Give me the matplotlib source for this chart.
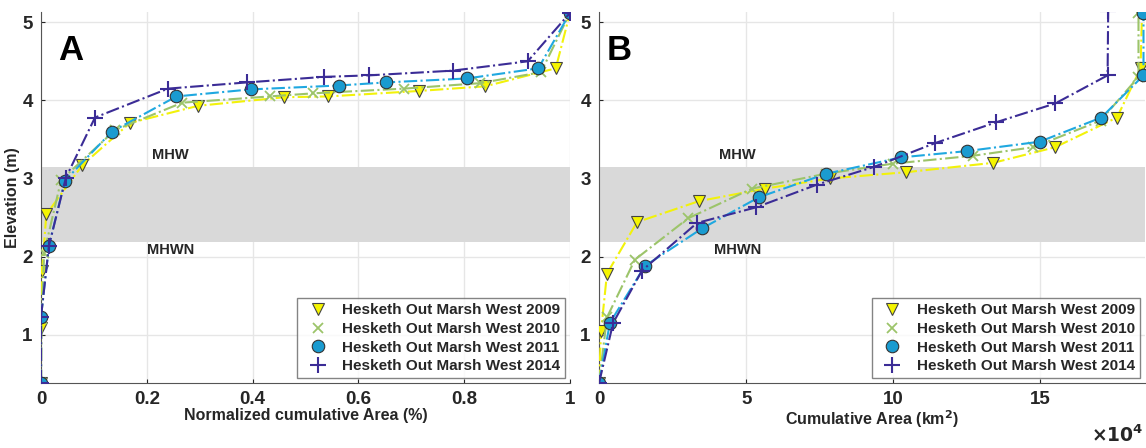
import matplotlib
matplotlib.use('Agg')
import matplotlib.pyplot as plt
from matplotlib.ticker import FuncFormatter

plt.rcParams['font.family'] = ['Liberation Sans', 'DejaVu Sans']
plt.rcParams['font.weight'] = 'bold'

years = ['2009', '2010', '2011', '2014']

# Panel A: normalized cumulative area vs elevation
a_x_2009 = [0, 0, 0.002, 0.01, 0.078, 0.168, 0.297, 0.46, 0.543, 0.714, 0.84, 0.973, 1.0]
a_y_2009 = [0.38, 1.08, 1.82, 2.54, 3.17, 3.71, 3.93, 4.04, 4.05, 4.12, 4.18, 4.41, 5.12]
a_x_2010 = [0, 0.001, 0.006, 0.038, 0.14, 0.267, 0.432, 0.515, 0.686, 0.83, 0.945, 1.0]
a_y_2010 = [0.38, 1.2, 2.05, 2.98, 3.62, 3.97, 4.05, 4.09, 4.15, 4.22, 4.36, 5.12]
a_x_2011 = [0, 0, 0.015, 0.045, 0.134, 0.256, 0.396, 0.563, 0.653, 0.805, 0.94, 1.0]
a_y_2011 = [0.38, 1.23, 2.14, 2.97, 3.6, 4.05, 4.14, 4.19, 4.23, 4.28, 4.41, 5.12]
a_x_2014 = [0, 0, 0.015, 0.047, 0.102, 0.24, 0.39, 0.534, 0.62, 0.778, 0.92, 1.0]
a_y_2014 = [0.38, 1.23, 2.14, 3.01, 3.78, 4.15, 4.23, 4.30, 4.32, 4.38, 4.50, 5.12]

# Panel B: cumulative area (km2) vs elevation
b_x_2009 = [0, 700, 2700, 12900, 34000, 56500, 78600, 104400, 134000, 155000, 176000, 184000, 184500]
b_y_2009 = [0.38, 1.05, 1.78, 2.44, 2.71, 2.87, 3.0, 3.08, 3.2, 3.4, 3.78, 4.41, 5.12]
b_x_2010 = [0, 2700, 12200, 30300, 52000, 77000, 100000, 127000, 147600, 170400, 183300, 183300]
b_y_2010 = [0.38, 1.22, 1.96, 2.49, 2.87, 3.06, 3.19, 3.29, 3.4, 3.74, 4.30, 5.12]
b_x_2011 = [0, 3700, 15600, 35000, 54400, 77200, 102700, 125000, 149700, 170700, 185000, 185000]
b_y_2011 = [0.38, 1.15, 1.88, 2.36, 2.76, 3.06, 3.27, 3.35, 3.47, 3.78, 4.32, 5.12]
b_x_2014 = [0, 4800, 14600, 33300, 53400, 74000, 93600, 114000, 135000, 155000, 172800, 173000]
b_y_2014 = [0.38, 1.15, 1.82, 2.43, 2.63, 2.92, 3.15, 3.45, 3.72, 3.96, 4.32, 5.14]

mhwn, mhw = 2.19, 3.15

styles = [
    dict(marker='v', color='#f2f20a', mfc='#f5f500', mec='#444444', ms=9, mew=0.8),
    dict(marker='x', color='#9cc46a', mec='#9cc46a', ms=7, mew=1.3),
    dict(marker='o', color='#1fa8e0', mfc='#1a9bd0', mec='#333333', ms=9, mew=0.8),
    dict(marker='+', color='#3b2c96', mec='#3b2c96', ms=11, mew=1.5),
]

txt = '#262626'

fig = plt.figure(figsize=(11.46, 4.48), dpi=100)
ax1 = fig.add_axes([0.0358, 0.145, 0.4616, 0.828])
ax2 = fig.add_axes([0.5227, 0.145, 0.4764, 0.828])

a_data = [(a_x_2009, a_y_2009), (a_x_2010, a_y_2010), (a_x_2011, a_y_2011), (a_x_2014, a_y_2014)]
b_data = [(b_x_2009, b_y_2009), (b_x_2010, b_y_2010), (b_x_2011, b_y_2011), (b_x_2014, b_y_2014)]

for ax, data in [(ax1, a_data), (ax2, b_data)]:
    ax.axhspan(mhwn, mhw, color='#d9d9d9', zorder=1, lw=0)
    for (x, y), st, yr in zip(data, styles, years):
        ax.plot(x, y, linestyle='-.', lw=1.5, zorder=3,
                label='Hesketh Out Marsh West ' + yr, **st)
    ax.set_ylim(0.38, 5.13)
    ax.set_yticks([1, 2, 3, 4, 5])
    ax.grid(True, color='#e6e6e6', lw=1, zorder=0)
    ax.set_axisbelow(True)
    for s in ['top', 'right']:
        ax.spines[s].set_visible(False)
    for s in ['left', 'bottom']:
        ax.spines[s].set_color('#555555')
    ax.tick_params(direction='in', length=3, labelsize=13.5, colors=txt, pad=6)
    leg = ax.legend(loc='lower right', fontsize=11, frameon=True, fancybox=False,
                    edgecolor='#666666', borderpad=0.35, labelspacing=0.3,
                    handletextpad=0.6, borderaxespad=0.3)
    for t, h in zip(leg.get_texts(), leg.get_lines()):
        t.set_fontweight('bold')
        t.set_color(txt)
        h.set_linestyle('none')

ax1.set_xlim(0, 1)
ax1.set_xticks([0, 0.2, 0.4, 0.6, 0.8, 1])
ax1.set_xticklabels(['0', '0.2', '0.4', '0.6', '0.8', '1'], fontweight='bold')
ax1.set_yticklabels(['1', '2', '3', '4', '5'], fontweight='bold')
ax1.set_xlabel('Normalized cumulative Area (%)', fontsize=11.5, fontweight='bold', color=txt, labelpad=0)
ax1.set_ylabel('Elevation (m)', fontsize=11.5, fontweight='bold', color=txt, labelpad=2)
ax1.text(0.245, 3.3, 'MHW', ha='center', va='center', fontsize=10.5, fontweight='bold', color=txt)
ax1.text(0.245, 2.08, 'MHWN', ha='center', va='center', fontsize=10.5, fontweight='bold', color=txt)
ax1.text(0.032, 4.64, 'A', ha='left', va='center', fontsize=25, fontweight='bold')

ax2.set_xlim(0, 185500)
ax2.set_xticks([0, 50000, 100000, 150000])
ax2.xaxis.set_major_formatter(FuncFormatter(lambda v, p: '%g' % (v / 1e4)))
ax2.set_yticklabels(['1', '2', '3', '4', '5'], fontweight='bold')
ax2.set_xlabel('Cumulative Area (km$^\\mathbf{2}$)', fontsize=11.5, fontweight='bold', color=txt, labelpad=0)
ax2.text(47000, 3.3, 'MHW', ha='center', va='center', fontsize=10.5, fontweight='bold', color=txt)
ax2.text(47000, 2.08, 'MHWN', ha='center', va='center', fontsize=10.5, fontweight='bold', color=txt)
ax2.text(2700, 4.64, 'B', ha='left', va='center', fontsize=25, fontweight='bold')
fig.text(0.998, 0.028, '$\\times\\mathbf{10^4}$', ha='right', va='center', fontsize=13.5, color=txt)

fig.savefig('out.png', dpi=100)
